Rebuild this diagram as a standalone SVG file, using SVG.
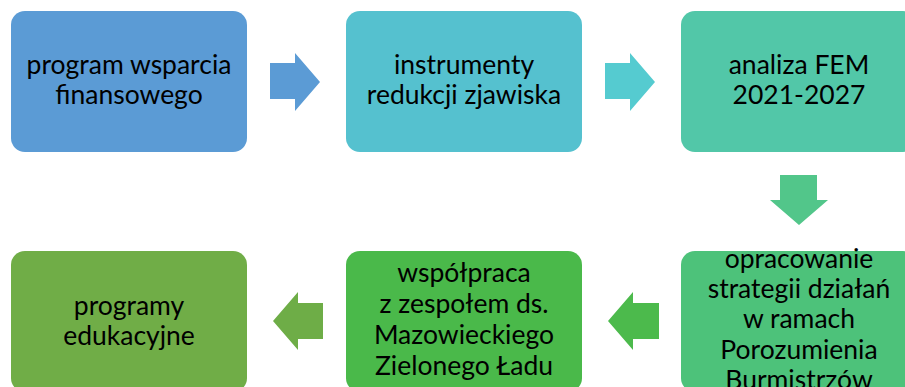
<svg xmlns="http://www.w3.org/2000/svg" width="905" height="387" viewBox="0 0 905 387">
<style>
text{font-family:"Lato","Liberation Sans",sans-serif;font-size:26.5px;fill:#000;text-anchor:middle}
</style>
<rect width="905" height="387" fill="#fff"/>
<g id="n1"><rect x="11" y="11" width="236" height="141" rx="14" fill="#5B9BD5"/>
<text x="129" y="74">program wsparcia</text><text x="129" y="104">finansowego</text></g>
<g id="n2"><rect x="346" y="11" width="236" height="141" rx="14" fill="#55C1CF"/>
<text x="464" y="74">instrumenty</text><text x="464" y="104">redukcji zjawiska</text></g>
<g id="n3"><rect x="681" y="11" width="236" height="141" rx="14" fill="#52C7A8"/>
<text x="799" y="74">analiza FEM</text><text x="799" y="104">2021-2027</text></g>
<g id="n6"><rect x="681" y="251" width="236" height="141" rx="14" fill="#4DC27A"/>
<text x="799" y="268">opracowanie</text><text x="799" y="298">strategii działań</text><text x="799" y="328">w ramach</text><text x="799" y="359">Porozumienia</text><text x="799" y="389">Burmistrzów</text></g>
<g id="n5"><rect x="346" y="251" width="236" height="141" rx="14" fill="#4AB94A"/>
<text x="464" y="282">współpraca</text><text x="464" y="313">z zespołem ds.</text><text x="464" y="344">Mazowieckiego</text><text x="464" y="375">Zielonego Ładu</text></g>
<g id="n4"><rect x="11" y="251" width="236" height="141" rx="14" fill="#70AD47"/>
<text x="129" y="315">programy</text><text x="129" y="345">edukacyjne</text></g>
<g id="connectors">
<polygon points="270,63 295,63 295,53 320,82 295,111 295,99 270,99" fill="#5B9BD5"/>
<polygon points="605,63 630,63 630,53 655,82 630,111 630,99 605,99" fill="#55CBD0"/>
<polygon points="780,175 817,175 817,200 828,200 799,225 770,200 780,200" fill="#52C68A"/>
<polygon points="659,303 633,303 633,292 608,321 633,350 633,339 659,339" fill="#4CBA4C"/>
<polygon points="323,303 298,303 298,292 273,321 298,350 298,339 323,339" fill="#6EAD47"/>
</g>
</svg>
